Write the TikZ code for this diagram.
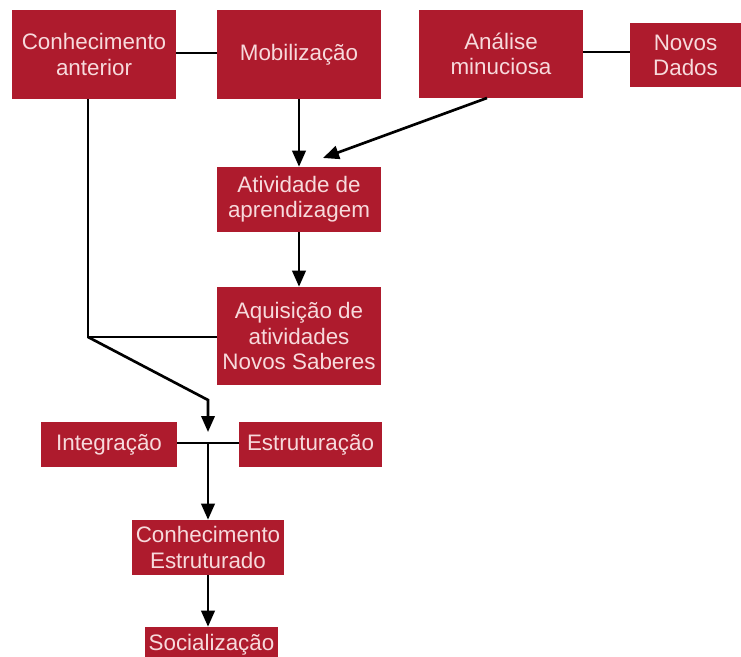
\documentclass[tikz,border=0pt]{standalone}
\usepackage{fontspec}
\setmainfont{Liberation Sans}
\usetikzlibrary{arrows.meta}
\definecolor{boxred}{HTML}{AE1B2D}
\definecolor{boxtext}{HTML}{F7DADC}
\begin{document}
\begin{tikzpicture}[x=0.75pt,y=-0.75pt,
  card/.style={fill=boxred, text=boxtext, inner sep=0pt, align=center,
    font=\fontsize{16.8}{18.8}\selectfont},
  link/.style={line width=2pt, black},
  flow/.style={link, -{Triangle[length=12pt,width=10pt]}}]
\useasboundingbox (0,0) rectangle (741,656);
% top row
\node[card, minimum width=164*0.75pt, minimum height=89*0.75pt] (ca) at (94,54.5) {Conhecimento\\anterior};
\node[card, minimum width=164*0.75pt, minimum height=89*0.75pt] (mob) at (299,54.5) {Mobilização};
\node[card, minimum width=164*0.75pt, minimum height=88*0.75pt] (ana) at (501,54) {Análise\\minuciosa};
\node[card, minimum width=111*0.75pt, minimum height=64*0.75pt] (nd) at (685.5,55) {Novos\\Dados};
% middle column
\node[card, minimum width=164*0.75pt, minimum height=65*0.75pt] (ativ) at (299,199.5) {Atividade de\\aprendizagem};
\node[card, minimum width=164*0.75pt, minimum height=98*0.75pt] (aq) at (299,336) {Aquisição de\\atividades\\Novos Saberes};
% lower part
\node[card, minimum width=136*0.75pt, minimum height=45*0.75pt] (int) at (109,444.5) {Integração};
\node[card, minimum width=143*0.75pt, minimum height=45*0.75pt] (est) at (310.5,444.5) {Estruturação};
\node[card, minimum width=152*0.75pt, minimum height=55*0.75pt] (ce) at (208,547.5) {Conhecimento\\Estruturado};
\node[card, minimum width=133*0.75pt, minimum height=36*0.75pt] (soc) at (211.5,645) {Socialização};
% helper points
\coordinate (anafoot) at (487,98);
\coordinate (ativin) at (323,158);
\coordinate (bend) at (88,337);
\coordinate (diag) at (208,400);
\coordinate (drop) at (208,432);
\coordinate (merge) at (208,443);
% connectors
\draw[link] (ca.east |- 0,53) -- (mob.west |- 0,53);
\draw[link] (ana.east |- 0,52) -- (nd.west |- 0,52);
\draw[flow] (mob.south) -- (ativ.north);
\draw[flow] (anafoot) -- (ativin);
\draw[flow] (ativ.south) -- (aq.north);
\draw[link] (ca.south -| bend) -- (bend) -- (bend -| aq.west);
\draw[flow] (bend) -- (diag) -- (drop);
\draw[link] (int.east |- merge) -- (est.west |- merge);
\draw[flow] (merge) -- (ce.north);
\draw[flow] (ce.south) -- (ce.south |- soc.north);
\end{tikzpicture}
\end{document}
